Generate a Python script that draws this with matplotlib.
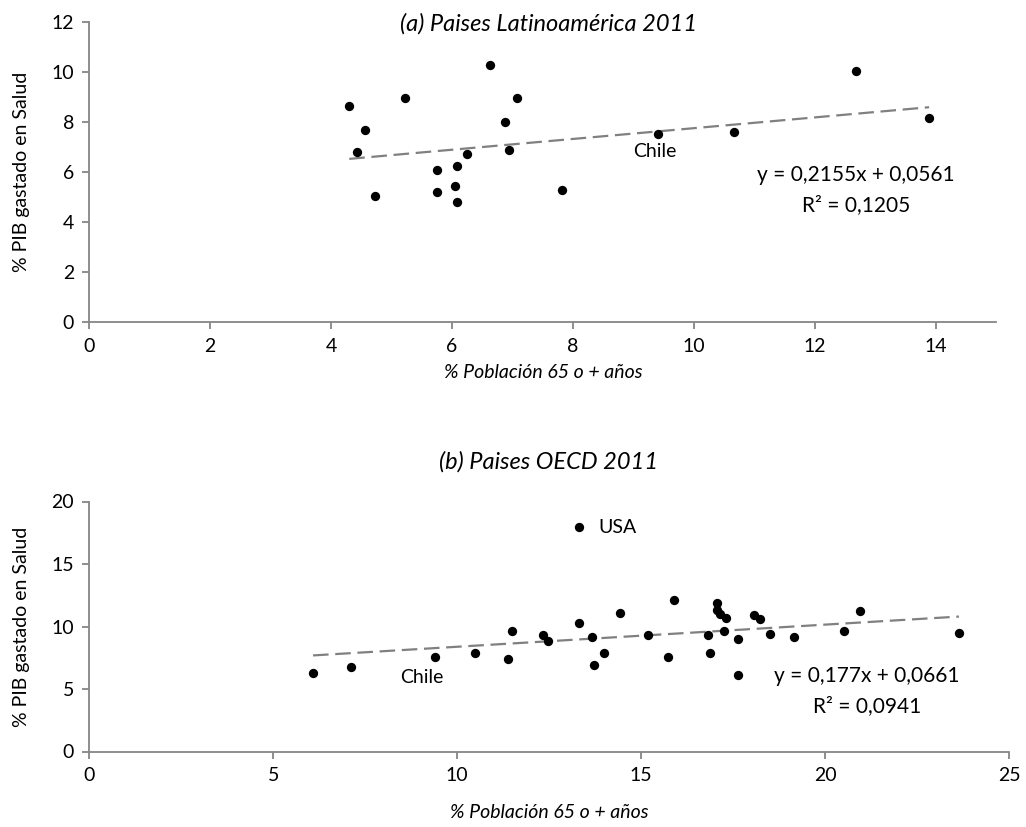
import matplotlib
matplotlib.use("Agg")
import matplotlib.pyplot as plt
import numpy as np

plt.rcParams['font.family'] = ['Lato', 'DejaVu Sans']

# (a) Latin America 2011
lat_x = [4.30, 5.22, 7.07, 4.56, 6.87, 4.43, 6.24, 6.94, 5.75, 6.08,
         4.73, 5.75, 6.05, 6.08, 7.82, 6.62, 12.68, 9.41, 10.66, 13.89]
lat_y = [8.65, 8.96, 8.96, 7.68, 8.00, 6.81, 6.72, 6.88, 6.09, 6.24,
         5.05, 5.21, 5.45, 4.81, 5.29, 10.30, 10.05, 7.53, 7.60, 8.16]
lat_fit = (0.2155, 5.61)

# (b) OECD 2011
oecd_x = [6.08, 7.11, 9.39, 10.47, 11.39, 11.50, 12.32, 12.48, 13.30, 13.30,
          13.67, 13.72, 13.99, 14.43, 15.19, 15.73, 15.89, 16.82, 16.86, 17.07,
          17.05, 17.15, 17.30, 17.24, 17.63, 17.63, 18.06, 18.22, 18.49, 19.15,
          20.51, 20.94, 23.64]
oecd_y = [6.26, 6.74, 7.53, 7.86, 7.38, 9.62, 9.30, 8.82, 10.26, 18.0,
          9.14, 6.90, 7.86, 11.06, 9.30, 7.54, 12.14, 9.34, 7.86, 11.86,
          11.32, 11.00, 10.70, 9.62, 8.98, 6.12, 10.90, 10.58, 9.42, 9.14,
          9.62, 11.22, 9.46]
oecd_fit = (0.177, 6.61)

W, H = 1026, 827
fig = plt.figure(figsize=(W / 100, H / 100), dpi=100)

axc = '#868686'
tick_fs = 14
lab_fs = 14
ann_fs = 14
eq_fs = 15


def style(ax):
    for s in ['top', 'right']:
        ax.spines[s].set_visible(False)
    for s in ['left', 'bottom']:
        ax.spines[s].set_color(axc)
        ax.spines[s].set_linewidth(1.3)
    ax.tick_params(direction='out', color=axc, length=5, width=1.3,
                   labelsize=tick_fs, labelcolor='black', pad=6)


def trend(ax, xs, fit):
    x0, x1 = min(xs), max(xs)
    xx = np.array([x0, x1])
    ax.plot(xx, fit[0] * xx + fit[1], color='#808080', lw=1.6,
            dashes=(7, 3), zorder=2)


# Top panel
ax1 = fig.add_axes([89.3 / W, 1 - 322.3 / H, (996.2 - 89.3) / W, 300 / H])
style(ax1)
ax1.set_xlim(0, 15)
ax1.set_ylim(0, 12)
ax1.set_xticks(range(0, 15, 2))
ax1.set_yticks(range(0, 13, 2))
trend(ax1, lat_x, lat_fit)
ax1.scatter(lat_x, lat_y, s=45, color='black', zorder=3, linewidths=0)
ax1.text(9.36, 6.85, 'Chile', ha='center', va='center', fontsize=ann_fs)
ax1.text(12.68, 5.89, 'y = 0,2155x + 0,0561', ha='center', va='center', fontsize=eq_fs)
ax1.text(12.68, 4.69, 'R² = 0,1205', ha='center', va='center', fontsize=eq_fs)
ax1.set_ylabel('% PIB gastado en Salud', fontsize=lab_fs, va='center')
ax1.yaxis.set_label_coords((21.7 - 89.3) / 906.9, 0.5)
ax1.set_xlabel('% Población 65 o + años', fontsize=lab_fs, style='italic', va='center')
ax1.xaxis.set_label_coords(0.5, (322.3 - 372) / 300)

# Bottom panel
ax2 = fig.add_axes([89.4 / W, 1 - 751.5 / H, (1009 - 89.4) / W, 250 / H])
style(ax2)
ax2.set_xlim(0, 25)
ax2.set_ylim(0, 20)
ax2.set_xticks(range(0, 26, 5))
ax2.set_yticks(range(0, 21, 5))
trend(ax2, oecd_x, oecd_fit)
ax2.scatter(oecd_x, oecd_y, s=45, color='black', zorder=3, linewidths=0)
ax2.text(9.05, 5.9, 'Chile', ha='center', va='center', fontsize=ann_fs)
ax2.text(13.85, 17.9, 'USA', ha='left', va='center', fontsize=ann_fs)
ax2.text(21.13, 6.0, 'y = 0,177x + 0,0661', ha='center', va='center', fontsize=eq_fs)
ax2.text(21.13, 3.6, 'R² = 0,0941', ha='center', va='center', fontsize=eq_fs)
ax2.set_ylabel('% PIB gastado en Salud', fontsize=lab_fs, va='center')
ax2.yaxis.set_label_coords((21.7 - 89.4) / 919.6, 0.5)
ax2.set_xlabel('% Población 65 o + años', fontsize=lab_fs, style='italic', va='center')
ax2.xaxis.set_label_coords(0.5, (751.5 - 812) / 250)

# Titles
fig.text(0.535, 1 - 24 / H, '(a) Paises Latinoamérica 2011', ha='center', va='center',
         fontsize=17, style='italic')
fig.text(0.535, 1 - 462 / H, '(b) Paises OECD 2011', ha='center', va='center',
         fontsize=17, style='italic')

fig.savefig('out.png', dpi=100)
